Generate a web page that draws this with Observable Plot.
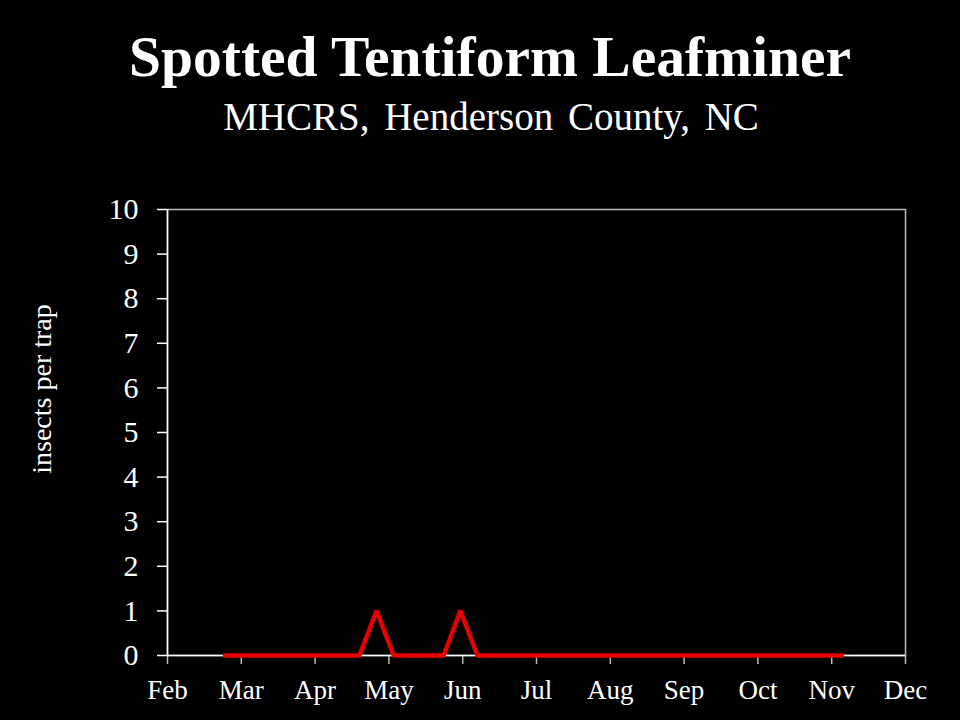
<!DOCTYPE html>
<html>
<head>
<meta charset="utf-8">
<script src="https://cdn.jsdelivr.net/npm/d3@7"></script>
<script src="https://cdn.jsdelivr.net/npm/@observablehq/plot@0.6"></script>
<style>
  html, body { margin: 0; padding: 0; background: #000; }
  body { width: 960px; height: 720px; position: relative; overflow: hidden; font-family: "Liberation Serif", "DejaVu Serif", serif; color: #fff; }
  #title { position: absolute; left: 10px; width: 960px; top: 24px; text-align: center; font-size: 57.5px; font-weight: bold; line-height: 66px; }
  #subtitle { position: absolute; left: 11px; width: 960px; top: 94px; text-align: center; font-size: 39px; line-height: 46px; word-spacing: 5px; }
  #ylabel { position: absolute; left: 42px; top: 389px; transform: translate(-50%, -50%) rotate(-90deg); font-size: 28px; white-space: nowrap; }
  #chart { position: absolute; left: 0; top: 0; }
</style>
</head>
<body>
<div id="chart"></div>
<div id="title">Spotted Tentiform Leafminer</div>
<div id="subtitle">MHCRS, Henderson County, NC</div>
<div id="ylabel">insects per trap</div>
<script>
const months = ["Feb","Mar","Apr","May","Jun","Jul","Aug","Sep","Oct","Nov","Dec"];
const yTicks = [0,1,2,3,4,5,6,7,8,9,10];
const trapDates = ["2/21","2/28","3/7","3/14","3/21","3/28","4/4","4/11","4/18","4/25","5/2","5/9","5/16","5/23","5/30","6/6","6/13","6/20","6/27","7/4","7/11","7/18","7/25","8/1","8/8","8/15","8/22","8/29","9/5","9/12","9/19","9/26","10/3","10/10","10/17","10/24","10/31","11/5"];
const trapCounts = [0,0,0,0,0,0,0,0,0,1,0,0,0,0,1,0,0,0,0,0,0,0,0,0,0,0,0,0,0,0,0,0,0,0,0,0,0,0];

const daysIn = {2:28,3:31,4:30,5:31,6:30,7:31,8:31,9:30,10:31,11:30,12:31};
const data = trapDates.map((s, i) => {
  const [m, d] = s.split("/").map(Number);
  return {pos: (m - 2) + d / daysIn[m], count: trapCounts[i]};
});

const chart = Plot.plot({
  width: 960,
  height: 720,
  marginLeft: 167,
  marginRight: 55,
  marginTop: 209,
  marginBottom: 65,
  style: {background: "#000", color: "#fff", fontFamily: "Liberation Serif, DejaVu Serif, serif"},
  x: {type: "linear", domain: [0, 10], axis: null},
  y: {domain: [0, 10], axis: null},
  marks: [
    Plot.frame({stroke: "#bbb", strokeWidth: 1.5}),
    Plot.axisY(yTicks, {tickSize: 10, tickPadding: 19, stroke: "#fff", strokeWidth: 1.5, fontSize: 30, fill: "#fff", label: null}),
    Plot.axisX(months.map((m, i) => i), {tickSize: 9, tickPadding: 15, stroke: "#bbb", strokeWidth: 1.5, fontSize: 27, fill: "#fff", tickFormat: i => months[i], label: null}),
    Plot.ruleX([0], {stroke: "#fff", strokeWidth: 1.5}),
    Plot.ruleY([0], {stroke: "#fff", strokeWidth: 1.5}),
    Plot.line(data, {x: "pos", y: "count", stroke: "#e60000", strokeWidth: 4.5, strokeLinejoin: "miter", strokeLinecap: "butt"})
  ]
});
document.getElementById("chart").append(chart);
</script>
</body>
</html>
